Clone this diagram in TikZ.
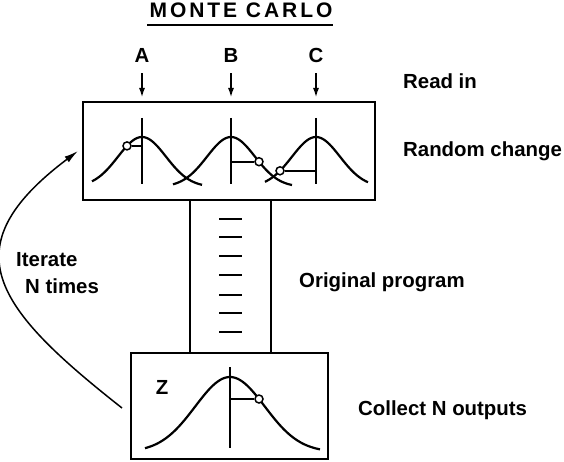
\documentclass[tikz,border=0pt]{standalone}
\usepackage{fontspec}
\setmainfont{Liberation Sans}
\usepackage{tikz}
\usetikzlibrary{arrows.meta, positioning, calc}

\begin{document}
\begin{tikzpicture}[
    x=1pt, y=-1pt,
    every node/.style={inner sep=0pt, font=\bfseries\fontsize{20.4}{22}\selectfont},
    panel/.style={draw, line width=2pt, minimum width=#1},
    label/.style={anchor=base west},
    readarrow/.style={-{Latex[length=10pt, width=6pt]}, line width=2pt, shorten <=10pt, shorten >=3pt},
    bell/.style={line width=2.2pt},
    probe/.style={circle, draw, line width=1.5pt, fill=white, minimum size=8pt},
    looparrow/.style={-{Latex[length=14pt, width=7pt]}, line width=1.5pt}
  ]
    \useasboundingbox (0,0) rectangle (564,462);

    % title
    \node[anchor=base, font=\bfseries\fontsize{21}{22}\selectfont\addfontfeature{LetterSpace=14}] (title) at (241,18) {MONTE CARLO};
    \draw[line width=2pt] (147,25) -- (333,25);

    % boxes
    \node[panel=292pt, minimum height=98pt] (inbox) at (229,151) {};
    \node[panel=81pt, minimum height=153pt] (prog) at (230.5,276.5) {};
    \node[panel=197pt, minimum height=106pt] (outbox) at (229.5,406) {};

    % inputs
    \node[anchor=base] (inA) at (142,63) {A};
    \node[anchor=base] (inB) at (231,63) {B};
    \node[anchor=base] (inC) at (316,63) {C};
    \foreach \v in {inA, inB, inC}
      \draw[readarrow] (\v.south) -- (\v |- inbox.north);

    % distributions in the input box
    \draw[bell] plot[domain=-50:60, samples=60] ({142+\x},{187-50*exp(-(\x)^2/1152)});
    \draw[bell] plot[domain=-58:61, samples=60] ({231+\x},{187-50*exp(-(\x)^2/1152)});
    \draw[bell] plot[domain=-51:52, samples=60] ({316+\x},{187-50*exp(-(\x)^2/1152)});
    \foreach \px in {142, 231, 316}
      \draw[bell] (\px,118) -- (\px,184);
    \node[probe] (pA) at (127,145.9) {};
    \node[probe] (pB) at (259,161.7) {};
    \node[probe] (pC) at (280,170.8) {};
    \draw[bell] (pA.east) -- (pA -| 142,0);
    \draw[bell] (pB.west) -- (pB -| 231,0);
    \draw[bell] (pC.east) -- (pC -| 316,0);

    % program lines
    \foreach \y in {219,237,256,275,295,313,332}
      \draw[line width=1.8pt] (219,\y) -- (242,\y);

    % output distribution
    \node[anchor=base] (zlbl) at (162,394) {Z};
    \draw[bell] plot[domain=-85:90, samples=80] ({230+\x},{452-75*exp(-(\x)^2/2424)});
    \draw[bell] (230,367) -- (230,448);
    \node[probe] (pZ) at (259,399) {};
    \draw[bell] (pZ.west) -- (pZ -| 230,0);

    % side labels
    \node[label] (readin) at (403,89) {Read in};
    \node[label] (change) at (403,157) {Random change};
    \node[label] (orig) at (299,287) {Original program};
    \node[label] (collect) at (358,415) {Collect N outputs};
    \node[label] (iter) at (16,266) {Iterate};
    \node[label] (ntimes) at (25,293) {N times};

    % iteration loop
    \coordinate (loopstart) at (122,408);
    \coordinate (loopend) at (78,151);
    \draw[looparrow] (loopstart) .. controls (-5,308) and (-51,248) .. (loopend);
  \end{tikzpicture}
\end{document}
